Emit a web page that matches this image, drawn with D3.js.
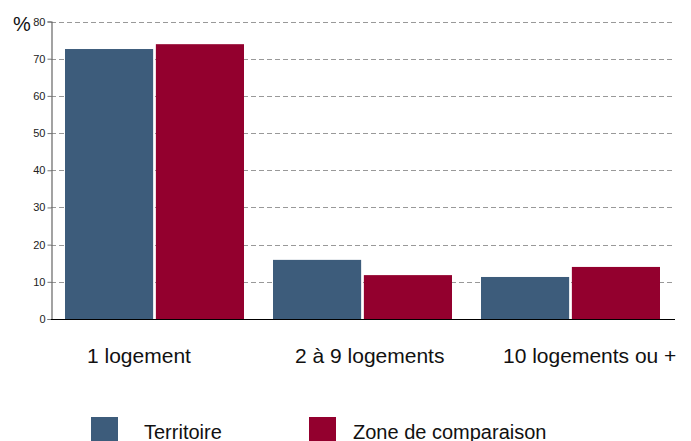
<!DOCTYPE html>
<html>
<head>
<meta charset="utf-8">
<script src="https://cdn.jsdelivr.net/npm/d3@7"></script>
<style>
  html, body { margin: 0; padding: 0; background: #fff; }
  svg { display: block; font-family: "Liberation Sans", Arial, sans-serif; }
</style>
</head>
<body>
<svg id="chart" width="691" height="441"></svg>
<script>
// Répartition des logements selon la taille de l'immeuble (%)
const categories = ["1 logement", "2 à 9 logements", "10 logements ou +"];
const series = ["Territoire", "Zone de comparaison"];
const territoire = [72.6, 15.9, 11.3];
const zoneComparaison = [73.9, 11.8, 14.0];
const yTicks = [0, 10, 20, 30, 40, 50, 60, 70, 80];
const colors = ["#3d5c7b", "#93002e"];

const values = [territoire, zoneComparaison];
const rows = categories.map((c, i) => ({
  category: c,
  bars: series.map((s, j) => ({ series: s, value: values[j][i], color: colors[j] }))
}));

const svg = d3.select("#chart");
const plotLeft = 51, plotRight = 675, plotTop = 21.5, plotBottom = 319;

const x0 = d3.scaleBand().domain(categories).range([plotLeft, plotRight]).padding(0);
const x1 = d3.scaleBand().domain(series).range([14, 193]).paddingInner(0.03);
const y = d3.scaleLinear().domain([0, 80]).range([plotBottom, plotTop]);

// Dashed horizontal gridlines
svg.append("g")
  .selectAll("line")
  .data(yTicks.filter(t => t > 0))
  .join("line")
  .attr("x1", plotLeft).attr("x2", 672)
  .attr("y1", d => Math.round(y(d)) + 0.5).attr("y2", d => Math.round(y(d)) + 0.5)
  .attr("stroke", "#999").attr("stroke-width", 1.2)
  .attr("stroke-dasharray", "5,3");

// Bars
const groups = svg.append("g")
  .selectAll("g")
  .data(rows)
  .join("g")
  .attr("transform", d => `translate(${x0(d.category)},0)`);

groups.selectAll("rect")
  .data(d => d.bars)
  .join("rect")
  .attr("x", d => x1(d.series))
  .attr("width", x1.bandwidth())
  .attr("y", d => y(d.value))
  .attr("height", d => y(0) - y(d.value))
  .attr("fill", d => d.color);

// Y axis
const yAxis = d3.axisLeft(y).tickValues(yTicks).tickSize(4).tickPadding(2);
const ya = svg.append("g")
  .attr("transform", `translate(${plotLeft + 0.5},0)`)
  .call(yAxis);
ya.select(".domain").attr("stroke", "#666").attr("stroke-width", 1.2);
ya.selectAll(".tick line").attr("stroke", "#777");
ya.selectAll(".tick text")
  .attr("fill", "#222")
  .style("font-size", "11px")
  .style("font-family", "Liberation Sans, Arial, sans-serif");

// Baseline
svg.append("line")
  .attr("x1", plotLeft).attr("x2", plotRight)
  .attr("y1", y(0) + 0.5).attr("y2", y(0) + 0.5)
  .attr("stroke", "#000").attr("stroke-width", 1.2);

// Unit label
svg.append("text")
  .attr("x", 13).attr("y", 31)
  .style("font-size", "20px")
  .attr("fill", "#111")
  .text("%");

// Category labels
svg.append("g")
  .selectAll("text")
  .data(categories)
  .join("text")
  .attr("x", d => x0(d) + 36)
  .attr("y", 363)
  .style("font-size", "21px")
  .attr("fill", "#111")
  .text(d => d);

// Legend
const legendX = [91, 309];
const legend = svg.append("g")
  .selectAll("g")
  .data(series)
  .join("g")
  .attr("transform", (d, i) => `translate(${legendX[i]},417)`);
legend.append("rect")
  .attr("width", 27).attr("height", 27)
  .attr("fill", (d, i) => colors[i]);
legend.append("text")
  .attr("x", (d, i) => i === 0 ? 53 : 44)
  .attr("y", 21.5)
  .style("font-size", "20px")
  .attr("fill", "#111")
  .text(d => d);
</script>
</body>
</html>
